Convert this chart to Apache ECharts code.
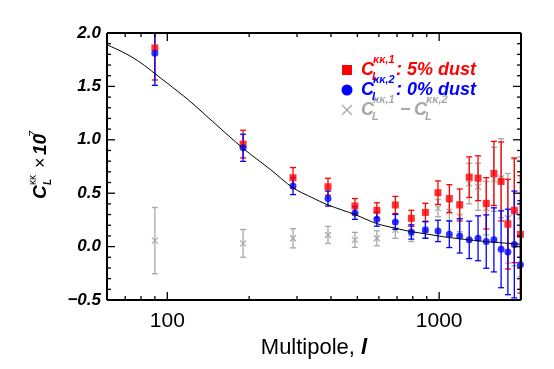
<!DOCTYPE html>
<html><head><meta charset="utf-8">
<script src="https://cdn.jsdelivr.net/npm/echarts@6/dist/echarts.min.js"></script>
<style>html,body{margin:0;padding:0;background:#fff}#c{width:554px;height:369px}</style>
</head><body><div id="c"></div>
<script>
// ---- data ----
const multipoles = [90,190,290,390,490,590,690,790,890,990,1090,1190,1290,1390,1490,1590,1690,1790,1890,1990];
const dust5 = [1.86,0.96,0.645,0.56,0.38,0.34,0.39,0.265,0.32,0.505,0.45,0.39,0.65,0.64,0.405,0.685,0.61,0.21,0.34,0.115];
const dust5Err = [0.30,0.13,0.095,0.08,0.07,0.07,0.08,0.075,0.085,0.11,0.13,0.15,0.19,0.21,0.24,0.30,0.37,0.42,0.49,0.55];
const dust0 = [1.81,0.925,0.567,0.45,0.315,0.256,0.231,0.137,0.156,0.147,0.116,0.10,0.063,0.078,0.047,0.063,-0.025,-0.05,0.02,-0.17];
const dust0Err = [0.30,0.127,0.08,0.07,0.06,0.065,0.07,0.067,0.078,0.10,0.125,0.16,0.175,0.21,0.25,0.30,0.36,0.40,0.50,0.60];
const diffVals = [0.056,0.03,0.078,0.109,0.063,0.078,0.156,0.12,0.16,0.36,0.327,0.28,0.59,0.56,0.36,0.63,0.64,0.265,0.32,0.28];
const diffErr = [0.31,0.13,0.09,0.08,0.07,0.07,0.078,0.073,0.08,0.08,0.09,0.14,0.19,0.22,0.25,0.30,0.37,0.42,0.50,0.56];
const theoryL = [60,70,80,90,100,120,150,190,240,290,340,390,490,590,690,790,890,990,1090,1290,1490,1990];
const theoryCl = [1.89,1.81,1.72,1.62,1.53,1.37,1.15,0.92,0.72,0.55,0.46,0.39,0.30,0.215,0.172,0.14,0.12,0.10,0.085,0.063,0.047,0.022];
const xMajorTicks = [100,1000];
const xMinorTicks = [70,80,90,200,300,400,500,600,700,800,900,2000];
const yMajorTicks = [-0.5,0,0.5,1.0,1.5,2.0];
const yMinorTicks = [-0.4,-0.3,-0.2,-0.1,0.1,0.2,0.3,0.4,0.6,0.7,0.8,0.9,1.1,1.2,1.3,1.4,1.6,1.7,1.8,1.9];
const xMin = 60, xMax = 2000, yMin = -0.5, yMax = 2.0, yStep = 0.5;

const RED = '#ff0000', BLUE = '#0000ff', GRAY = '#a8a8a8';
const FONT = 'Liberation Sans, Arial, Helvetica, sans-serif';

function triples(vals, errs){ return multipoles.map((l,i)=>[l, vals[i], errs[i]]); }

function errRender(color, cap, cross){
  return function(params, api){
    const x = api.value(0), y = api.value(1), e = api.value(2);
    const t = api.coord([x, y + e]);
    const b = api.coord([x, y - e]);
    const c = api.coord([x, y]);
    const st = {stroke: color, lineWidth: 1.3};
    const ch = [
      {type:'line', shape:{x1:t[0], y1:t[1], x2:b[0], y2:b[1]}, style: st},
      {type:'line', shape:{x1:t[0]-cap, y1:t[1], x2:t[0]+cap, y2:t[1]}, style: st},
      {type:'line', shape:{x1:b[0]-cap, y1:b[1], x2:b[0]+cap, y2:b[1]}, style: st}
    ];
    if (cross){
      const s = 3;
      ch.push({type:'line', shape:{x1:c[0]-s, y1:c[1]-s, x2:c[0]+s, y2:c[1]+s}, style:{stroke: color, lineWidth: 1.2}});
      ch.push({type:'line', shape:{x1:c[0]-s, y1:c[1]+s, x2:c[0]+s, y2:c[1]-s}, style:{stroke: color, lineWidth: 1.2}});
    }
    return {type:'group', children: ch};
  };
}

const xAxisOpt = {
  type:'log', logBase:10, min:xMin, max:xMax, position:'bottom',
  axisLine:{show:false, onZero:false}, axisTick:{show:false}, splitLine:{show:false},
  axisLabel:{show:true, customValues: xMajorTicks.slice(), formatter: v => String(Math.round(v)), color:'#000', fontSize:21, fontFamily: FONT, margin: 11},
  name: 'Multipole, {i|l}', nameLocation:'middle', nameGap: 33,
  nameTextStyle: {color:'#000', fontSize:22, fontFamily: FONT, rich:{i:{fontSize:22, fontStyle:'italic', fontWeight:'bold', fontFamily: FONT, color:'#000'}}}
};
const yAxisOpt = {
  type:'value', min:yMin, max:yMax, interval:yStep, position:'left',
  axisLine:{show:false, onZero:false}, axisTick:{show:false}, splitLine:{show:false},
  axisLabel:{show:true, color:'#000', fontSize:17, fontStyle:'italic', fontWeight:'bold', fontFamily: FONT, margin:6,
    formatter: v => (v < 0 ? '\u2212' : '') + Math.abs(v).toFixed(1)}
};

// legend & y-title as text graphics
const bi = s => 'italic bold ' + s + 'px ' + FONT;
function txt(x, y, text, font, fill){
  return {type:'text', x: x, y: y, style:{text: text, font: font, fill: fill, verticalAlign:'middle', align:'left'}};
}
const legendRows = [
  {y:70, color:RED, tail:': 5% dust', sup:'\u03ba\u03ba,1'},
  {y:90, color:BLUE, tail:': 0% dust', sup:'\u03ba\u03ba,2'}
];
const graphics = [];
legendRows.forEach(r => {
  graphics.push(txt(361, r.y, 'C', bi(18), r.color));
  graphics.push(txt(372, r.y + 7, 'L', bi(11), r.color));
  graphics.push(txt(373, r.y - 10, r.sup, bi(11), r.color));
  graphics.push(txt(396, r.y, r.tail, bi(18), r.color));
});
graphics.push({type:'rect', shape:{x:342, y:65, width:10, height:10}, style:{fill:RED}});
graphics.push({type:'circle', shape:{cx:347, cy:90, r:5.5}, style:{fill:BLUE}});
graphics.push({type:'line', shape:{x1:342, y1:105, x2:352, y2:115}, style:{stroke:GRAY, lineWidth:1.2}});
graphics.push({type:'line', shape:{x1:342, y1:115, x2:352, y2:105}, style:{stroke:GRAY, lineWidth:1.2}});
graphics.push(txt(361, 110, 'C', bi(18), GRAY));
graphics.push(txt(372, 117, 'L', bi(11), GRAY));
graphics.push(txt(373, 100, '\u03ba\u03ba,1', bi(11), GRAY));
graphics.push(txt(400, 110, '\u2212', bi(18), GRAY));
graphics.push(txt(414, 110, 'C', bi(18), GRAY));
graphics.push(txt(425, 117, 'L', bi(11), GRAY));
graphics.push(txt(426, 100, '\u03ba\u03ba,2', bi(11), GRAY));
// y-axis title (rotated)
graphics.push({type:'group', x:41, y:165, rotation: Math.PI/2, children:[
  txt(-34, 0, 'C', bi(19), '#000'),
  txt(-20, -8, '\u03ba\u03ba', '10px ' + FONT, '#000'),
  txt(-20, 7, 'L', bi(10), '#000'),
  txt(-3, 0, '\u00d7', '18px ' + FONT, '#000'),
  txt(10, 0, '10', bi(19), '#000'),
  txt(28, -7, '7', 'italic 11px ' + FONT, '#000')
]});

const chart = echarts.init(document.getElementById('c'));
chart.setOption({
  animation:false,
  grid:{left:107, right:33, top:33, bottom:69},
  xAxis: [xAxisOpt],
  yAxis: [yAxisOpt],
  series: [
    {type:'line', name:'theory', data: theoryL.map((l,i)=>[l, theoryCl[i]]),
      smooth:0.3, showSymbol:false, symbol:'none', lineStyle:{color:'#000', width:1}},
    {type:'custom', name:'diff', data: triples(diffVals, diffErr), encode:{x:0, y:1},
      renderItem: errRender(GRAY, 3, true), clip:true},
    {type:'custom', name:'dust5err', data: triples(dust5, dust5Err), encode:{x:0, y:1},
      renderItem: errRender(RED, 3, false), clip:true},
    {type:'scatter', name:'dust5', data: multipoles.map((l,i)=>[l, dust5[i]]),
      symbol:'rect', symbolSize:7, itemStyle:{color:RED}},
    {type:'custom', name:'dust0err', data: triples(dust0, dust0Err), encode:{x:0, y:1},
      renderItem: errRender(BLUE, 3, false), clip:true},
    {type:'scatter', name:'dust0', data: multipoles.map((l,i)=>[l, dust0[i]]),
      symbol:'circle', symbolSize:7, itemStyle:{color:BLUE}}
  ]
});

// frame and inward ticks, placed through the chart's own axis scales
const px = (x, y) => chart.convertToPixel({gridIndex:0}, [x, y]);
const tl = px(xMin, yMax), br = px(xMax, yMin);
const frameEls = [];
const tickStyle = {stroke:'#000', lineWidth:1.3};
function addX(v, len){
  const p = px(v, yMin), q = px(v, yMax);
  frameEls.push({type:'line', z:50, shape:{x1:p[0], y1:p[1], x2:p[0], y2:p[1]-len}, style: tickStyle});
  frameEls.push({type:'line', z:50, shape:{x1:q[0], y1:q[1], x2:q[0], y2:q[1]+len}, style: tickStyle});
}
function addY(v, len){
  const p = px(xMin, v), q = px(xMax, v);
  frameEls.push({type:'line', z:50, shape:{x1:p[0], y1:p[1], x2:p[0]+len, y2:p[1]}, style: tickStyle});
  frameEls.push({type:'line', z:50, shape:{x1:q[0], y1:q[1], x2:q[0]-len, y2:q[1]}, style: tickStyle});
}
xMajorTicks.forEach(v => addX(v, 8));
xMinorTicks.forEach(v => addX(v, 4));
yMajorTicks.forEach(v => addY(v, 8));
yMinorTicks.forEach(v => addY(v, 4));
frameEls.push({type:'line', z:51, shape:{x1:tl[0], y1:tl[1], x2:br[0], y2:tl[1]}, style:{stroke:'#000', lineWidth:2}});
frameEls.push({type:'line', z:51, shape:{x1:tl[0], y1:br[1], x2:br[0], y2:br[1]}, style:{stroke:'#000', lineWidth:2}});
frameEls.push({type:'line', z:51, shape:{x1:tl[0], y1:tl[1], x2:tl[0], y2:br[1]}, style:{stroke:'#000', lineWidth:2}});
frameEls.push({type:'line', z:51, shape:{x1:br[0], y1:tl[1], x2:br[0], y2:br[1]}, style:{stroke:'#000', lineWidth:2}});

chart.setOption({graphic: graphics.concat(frameEls)});
</script></body></html>
